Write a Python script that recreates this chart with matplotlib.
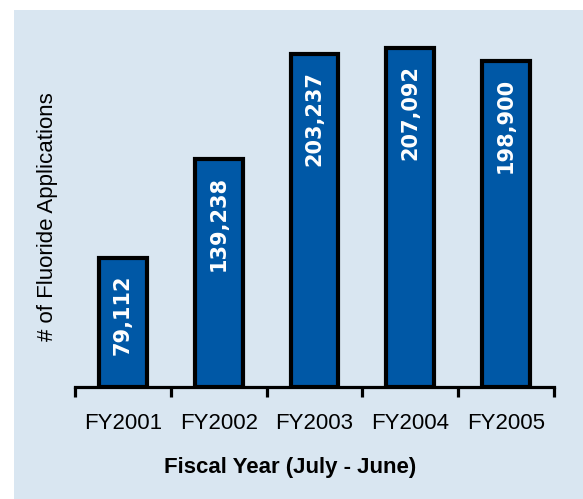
import matplotlib.pyplot as plt
from matplotlib.patches import Rectangle

# data
years = ["FY2001", "FY2002", "FY2003", "FY2004", "FY2005"]
applications = [79112, 139238, 203237, 207092, 198900]
value_labels = ["79,112", "139,238", "203,237", "207,092", "198,900"]

bg = "#d9e6f1"
bar_blue = "#0058a6"

plt.rcParams["font.family"] = ["Liberation Sans", "DejaVu Sans"]

fig = plt.figure(figsize=(5.83, 4.99), dpi=100)
fig.patch.set_facecolor("white")
# light blue panel, white margin on top and left
fig.patches.append(Rectangle((14 / 583, 0), 1, 489 / 499, transform=fig.transFigure,
                             facecolor=bg, edgecolor="none", zorder=-10))

ax = fig.add_axes([75 / 583, 1 - 387 / 499, 479 / 583, 360.1 / 499])
ax.set_facecolor("none")

x = range(len(years))
ax.bar(x, applications, width=0.5, color=bar_blue, edgecolor="black", linewidth=3, zorder=3)

for i, (v, lab) in enumerate(zip(applications, value_labels)):
    ax.annotate(lab, (i, v), xytext=(0, -12), textcoords="offset points",
                rotation=90, ha="center", va="top", color="white",
                fontsize=15, fontweight="bold", family="DejaVu Sans", zorder=4)

ax.set_xlim(-0.5, 4.5)
ax.set_ylim(0, 220000)

for s in ["top", "right", "left"]:
    ax.spines[s].set_visible(False)
ax.spines["bottom"].set_linewidth(2.3)
ax.spines["bottom"].set_zorder(2)

ax.set_yticks([])
ax.set_xticks([i - 0.5 for i in range(len(years) + 1)])
ax.set_xticks(list(x), minor=True)
ax.set_xticklabels([])
ax.set_xticklabels(years, minor=True, fontsize=16)
ax.tick_params(axis="x", which="major", length=7, width=2.3, color="black")
ax.tick_params(axis="x", which="minor", length=0, pad=19)

fig.text(290 / 583, 1 - 467 / 499, "Fiscal Year (July - June)", ha="center", va="center",
         fontsize=16, fontweight="bold")
fig.text(48 / 583, 1 - 217 / 499, "# of Fluoride Applications", ha="center", va="center",
         rotation=90, fontsize=16)

plt.savefig("out.png", dpi=100)
